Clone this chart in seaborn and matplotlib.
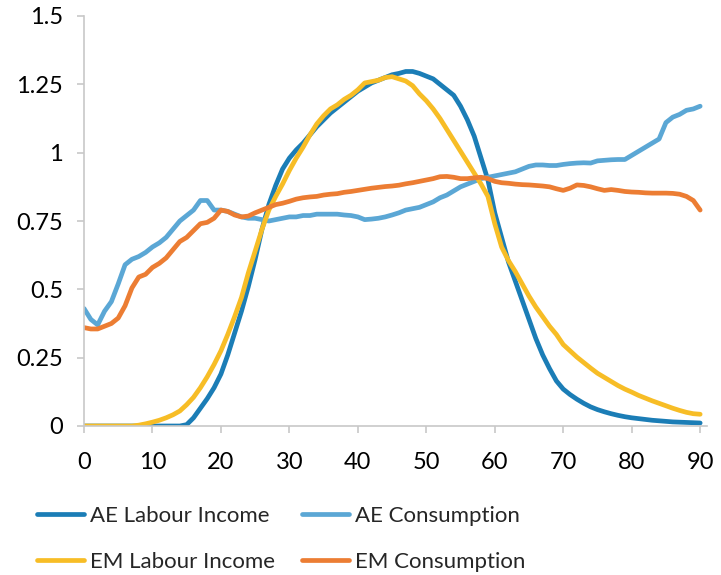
import matplotlib
matplotlib.use("Agg")
import matplotlib.pyplot as plt
import numpy as np
import pandas as pd
import seaborn as sns
from matplotlib.lines import Line2D

# ages 0..90
age = list(range(0, 91))

ae_labour = [0.0] * 15 + [
    0.005, 0.03, 0.065, 0.10, 0.14, 0.19, 0.26, 0.34, 0.42, 0.51,
    0.61, 0.72, 0.81, 0.88, 0.94, 0.98, 1.01, 1.035, 1.065, 1.095,
    1.12, 1.145, 1.165, 1.185, 1.205, 1.225, 1.24, 1.255, 1.265, 1.275,
    1.285, 1.29, 1.297, 1.297, 1.29, 1.28, 1.27, 1.25, 1.23, 1.21,
    1.17, 1.12, 1.06, 0.98, 0.90, 0.78, 0.69, 0.60, 0.53, 0.46,
    0.39, 0.32, 0.26, 0.21, 0.165, 0.135, 0.115, 0.098, 0.083, 0.07,
    0.06, 0.052, 0.045, 0.039, 0.034, 0.03, 0.027, 0.024, 0.021, 0.019,
    0.017, 0.015, 0.014, 0.013, 0.012, 0.011]

ae_cons = [
    0.43, 0.39, 0.37, 0.42, 0.455, 0.52, 0.59, 0.61, 0.62, 0.635,
    0.655, 0.67, 0.69, 0.72, 0.75, 0.77, 0.79, 0.825, 0.825, 0.79,
    0.79, 0.785, 0.775, 0.765, 0.76, 0.76, 0.755, 0.75, 0.755, 0.76,
    0.765, 0.765, 0.77, 0.77, 0.775, 0.775, 0.775, 0.775, 0.772, 0.77,
    0.765, 0.755, 0.757, 0.76, 0.765, 0.772, 0.78, 0.79, 0.795, 0.80,
    0.81, 0.82, 0.835, 0.845, 0.86, 0.875, 0.885, 0.895, 0.905, 0.91,
    0.915, 0.92, 0.925, 0.93, 0.94, 0.95, 0.955, 0.955, 0.953, 0.953,
    0.957, 0.96, 0.962, 0.963, 0.962, 0.97, 0.972, 0.974, 0.975, 0.975,
    0.99, 1.005, 1.02, 1.035, 1.05, 1.11, 1.13, 1.14, 1.155, 1.16, 1.17]

em_labour = [0.0] * 8 + [
    0.003, 0.008, 0.014, 0.021, 0.03, 0.041, 0.055, 0.078, 0.105, 0.14,
    0.18, 0.225, 0.275, 0.335, 0.40, 0.47, 0.56, 0.64, 0.72, 0.79,
    0.84, 0.885, 0.935, 0.98, 1.02, 1.065, 1.105, 1.135, 1.16, 1.175,
    1.195, 1.21, 1.23, 1.255, 1.26, 1.265, 1.275, 1.278, 1.27, 1.262,
    1.245, 1.215, 1.19, 1.16, 1.125, 1.085, 1.045, 1.005, 0.965, 0.925,
    0.885, 0.84, 0.74, 0.655, 0.605, 0.565, 0.52, 0.475, 0.435, 0.40,
    0.365, 0.335, 0.298, 0.275, 0.252, 0.232, 0.212, 0.193, 0.178, 0.163,
    0.148, 0.135, 0.124, 0.112, 0.102, 0.092, 0.083, 0.074, 0.065, 0.057,
    0.05, 0.045, 0.043]

em_cons = [
    0.36, 0.355, 0.355, 0.365, 0.375, 0.395, 0.44, 0.505, 0.545, 0.555,
    0.58, 0.595, 0.615, 0.645, 0.675, 0.69, 0.715, 0.74, 0.745, 0.76,
    0.79, 0.785, 0.772, 0.765, 0.768, 0.78, 0.79, 0.80, 0.81, 0.815,
    0.822, 0.83, 0.835, 0.838, 0.84, 0.845, 0.848, 0.85, 0.855, 0.858,
    0.862, 0.866, 0.87, 0.873, 0.876, 0.878, 0.881, 0.886, 0.89, 0.895,
    0.9, 0.905, 0.912, 0.913, 0.91, 0.905, 0.905, 0.908, 0.91, 0.905,
    0.895, 0.89, 0.888, 0.885, 0.883, 0.882, 0.88, 0.878, 0.875, 0.868,
    0.862, 0.87, 0.882, 0.88, 0.875, 0.868, 0.862, 0.865, 0.862, 0.858,
    0.856, 0.855, 0.853, 0.852, 0.852, 0.852, 0.851, 0.848, 0.84, 0.825, 0.79]

series = ["AE Labour Income", "AE Consumption", "EM Labour Income", "EM Consumption"]
colors = {"AE Labour Income": "#1b7db6", "AE Consumption": "#5ba7d5",
          "EM Labour Income": "#f7bd26", "EM Consumption": "#ec7d33"}

df = pd.concat([
    pd.DataFrame({"age": age, "value": ae_labour, "series": series[0]}),
    pd.DataFrame({"age": age, "value": ae_cons, "series": series[1]}),
    pd.DataFrame({"age": age, "value": em_labour, "series": series[2]}),
    pd.DataFrame({"age": age, "value": em_cons, "series": series[3]}),
])

sns.set_style("white")
plt.rcParams["font.family"] = ["Lato", "DejaVu Sans"]

fig = plt.figure(figsize=(7.21, 5.75), dpi=100)
ax = fig.add_axes([84/721, 1-426/575, 623/721, 410/575])

for s in series:
    sns.lineplot(data=df[df["series"] == s], x="age", y="value", color=colors[s],
                 linewidth=3.4, ax=ax, legend=False, solid_capstyle="round")

ax.set_xlim(0, 91)
ax.set_ylim(0, 1.5)
ax.set_xticks(range(0, 91, 10))
ax.set_yticks([0, 0.25, 0.5, 0.75, 1, 1.25, 1.5])
ax.set_yticklabels(["0", "0.25", "0.5", "0.75", "1", "1.25", "1.5"])
ax.set_xlabel("")
ax.set_ylabel("")
for side in ["top", "right"]:
    ax.spines[side].set_visible(False)
for side in ["left", "bottom"]:
    ax.spines[side].set_color("#c8c8c8")
    ax.spines[side].set_linewidth(1.2)
ax.tick_params(axis="both", colors="#c8c8c8", length=5, width=1.2,
               labelcolor="black", labelsize=17)
ax.tick_params(axis="x", pad=13.5, direction="out", bottom=True)
ax.tick_params(axis="y", pad=10, direction="out", left=True)

# legend: two columns below the plot
handles = [Line2D([0], [0], color=colors[s], linewidth=3.4, solid_capstyle="round") for s in series]
leg_kw = dict(loc="upper left", frameon=False, fontsize=16, handlelength=2.1,
              handletextpad=0.3, labelspacing=1.17, borderpad=0, borderaxespad=0)
fig.legend([handles[0], handles[2]], [series[0], series[2]],
           bbox_to_anchor=(37/721, 1-506/575), **leg_kw)
fig.legend([handles[1], handles[3]], [series[1], series[3]],
           bbox_to_anchor=(302/721, 1-506/575), **leg_kw)

fig.savefig("out.png", dpi=100)
